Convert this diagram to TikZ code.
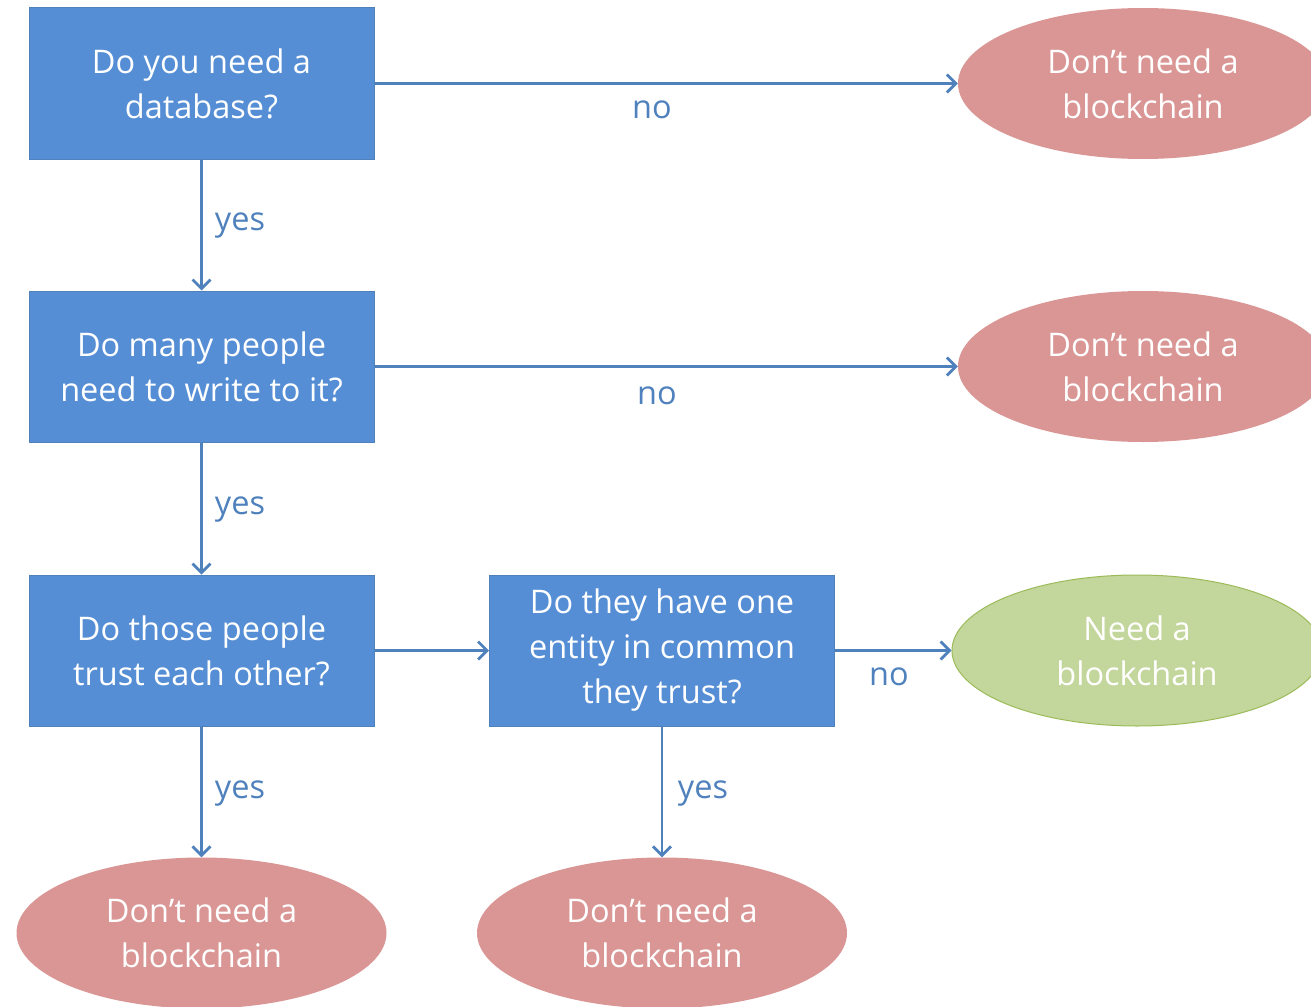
\documentclass[tikz,border=0pt]{standalone}
\usepackage{fontspec}
\setmainfont{Open Sans}
\usetikzlibrary{shapes.geometric,arrows.meta}
\definecolor{boxblue}{HTML}{558ED5}
\definecolor{boxedge}{HTML}{4F81BD}
\definecolor{linkblue}{HTML}{4F81BD}
\definecolor{nofill}{HTML}{D99694}
\definecolor{yesfill}{HTML}{C3D69B}
\definecolor{yesedge}{HTML}{9BBB59}
\tikzset{
  txt/.style={font=\fontsize{32.5}{45}\selectfont, text=white, align=center},
  qbox/.style={txt, rectangle, fill=boxblue, draw=boxedge, line width=1pt,
    minimum width=345pt, minimum height=151pt, inner sep=0pt},
  nobub/.style={txt, ellipse, fill=nofill, minimum width=370pt, minimum height=151pt, inner sep=0pt},
  yesbub/.style={txt, ellipse, fill=yesfill, draw=yesedge, line width=1pt,
    minimum width=370pt, minimum height=151pt, inner sep=0pt},
  link/.style={draw=linkblue, line width=2.8pt, -{Straight Barb[length=9pt,width=18pt,line width=2.8pt]}},
  lab/.style={font=\fontsize{32.5}{45}\selectfont, text=linkblue, inner sep=0pt}
}
\begin{document}
\begin{tikzpicture}[x=1pt,y=-1pt]
\useasboundingbox (0,0) rectangle (1311,1006);
\clip (0,0) rectangle (1311,1006);
% questions
\node[qbox] (q1) at (201.5,83.5) {Do you need a\\database?};
\node[qbox] (q2) at (201.5,366.5) {Do many people\\need to write to it?};
\node[qbox] (q3) at (201.5,650.5) {Do those people\\trust each other?};
\node[qbox] (q4) at (662,650.5) {Do they have one\\entity in common\\they trust?};
% outcomes
\node[nobub] (e1) at (1143,83.5) {Don’t need a\\blockchain};
\node[nobub] (e2) at (1143,366.5) {Don’t need a\\blockchain};
\node[yesbub] (e3) at (1137,650.5) {Need a\\blockchain};
\node[nobub] (e4) at (201.5,933) {Don’t need a\\blockchain};
\node[nobub] (e5) at (662,933) {Don’t need a\\blockchain};
% connectors
\draw[link] (q1.east) -- (e1.west);
\draw[link] (q1.south) -- (q2.north);
\draw[link] (q2.east) -- (e2.west);
\draw[link] (q2.south) -- (q3.north);
\draw[link] (q3.east) -- (q4.west);
\draw[link] (q4.east) -- (e3.west);
\draw[link] (q3.south) -- (e4.north);
\draw[link] (q4.south) -- (e5.north);
% labels
\node[lab] (l1) at (652,110) {no};
\node[lab] (l2) at (240,226) {yes};
\node[lab] (l3) at (657,396) {no};
\node[lab] (l4) at (240,510) {yes};
\node[lab] (l5) at (889,677) {no};
\node[lab] (l6) at (240,794) {yes};
\node[lab] (l7) at (703,794) {yes};
\end{tikzpicture}
\end{document}
